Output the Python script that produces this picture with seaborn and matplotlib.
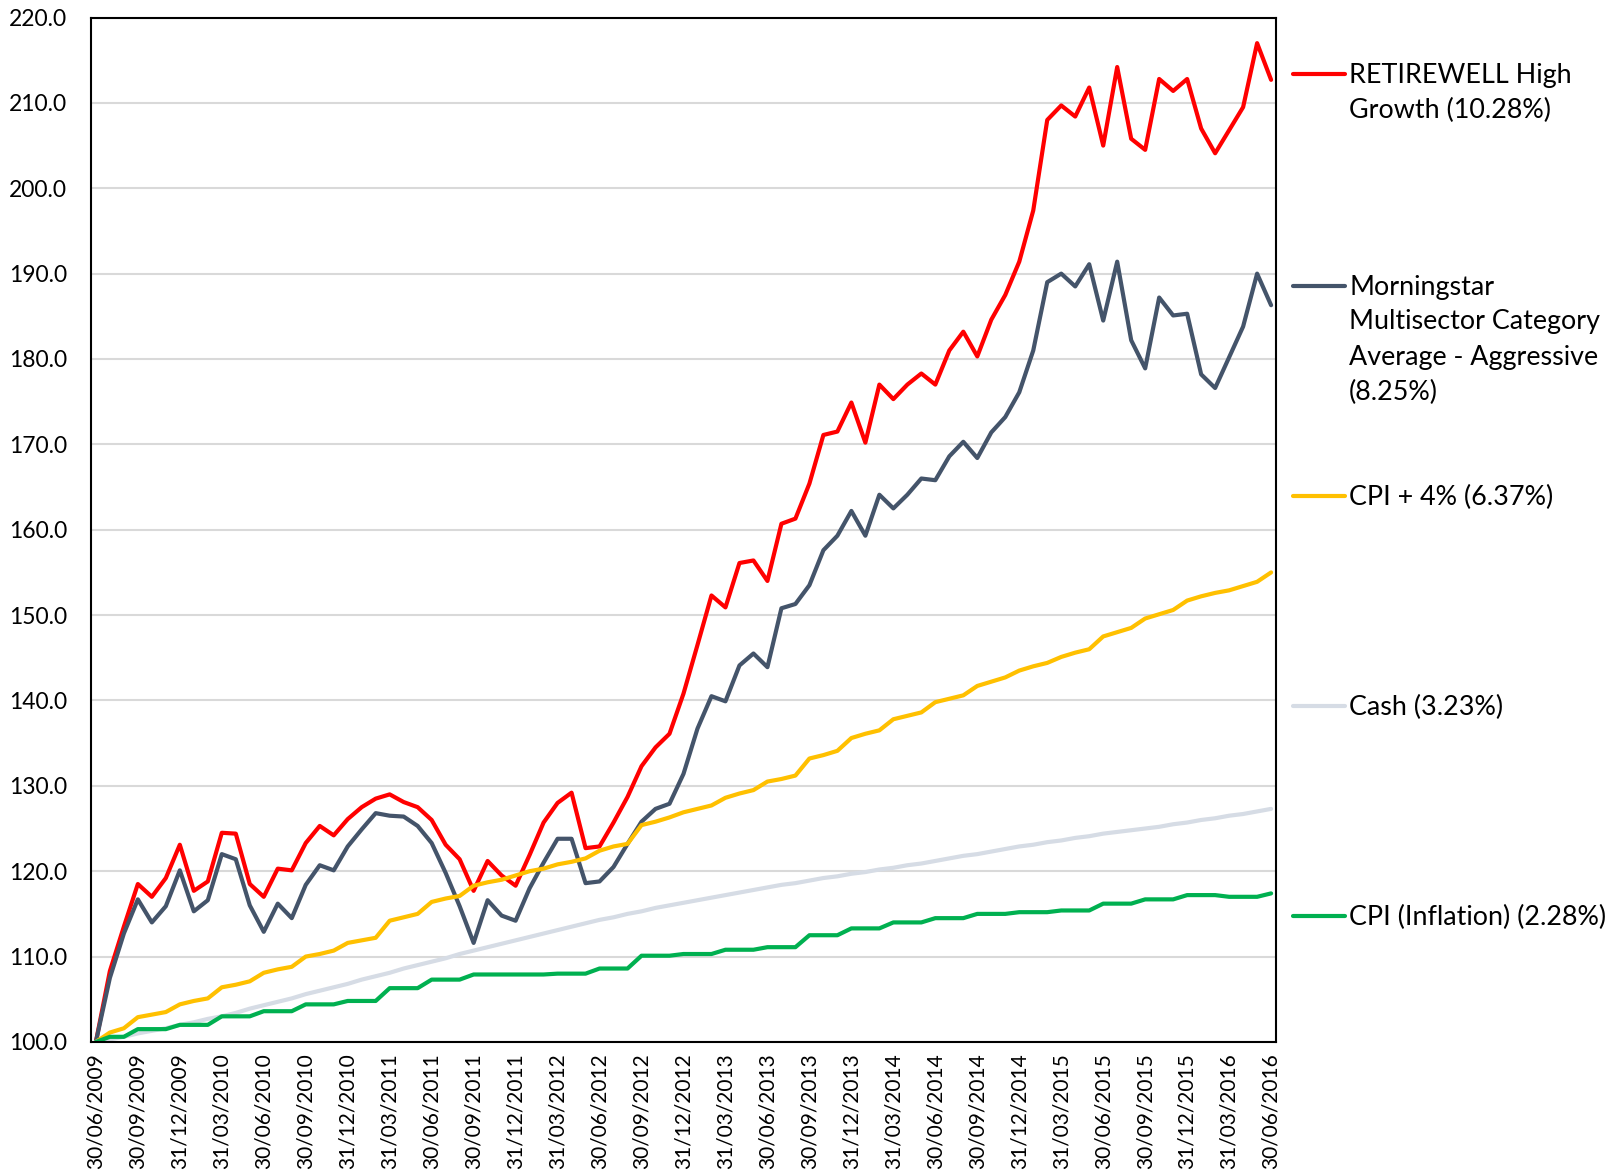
# -*- coding: utf-8 -*-
"""
Growth of 100 - RETIREWELL High Growth vs benchmarks, monthly 30/06/2009 - 30/06/2016.
"""

import pandas as pd
import matplotlib.pyplot as plt
import matplotlib.ticker as ticker
from matplotlib.lines import Line2D
import seaborn as sns

# 1. Data (month-end values)
dates = pd.date_range('2009-06-30', '2016-06-30', freq='ME')

retirewell = [100.0, 108.3, 113.5, 118.5, 117.0, 119.2, 123.1, 117.7, 118.8, 124.5,
              124.4, 118.5, 117.0, 120.3, 120.1, 123.3, 125.3, 124.2, 126.1, 127.5,
              128.5, 129.0, 128.1, 127.5, 126.0, 123.1, 121.4, 117.7, 121.2, 119.5,
              118.3, 121.9, 125.7, 128.0, 129.2, 122.7, 122.9, 125.7, 128.7, 132.3,
              134.5, 136.1, 140.8, 146.5, 152.3, 150.9, 156.1, 156.4, 154.0, 160.7,
              161.3, 165.4, 171.1, 171.5, 174.9, 170.2, 177.0, 175.3, 177.0, 178.3,
              177.0, 181.0, 183.2, 180.3, 184.6, 187.5, 191.4, 197.4, 208.0, 209.7,
              208.4, 211.8, 205.0, 214.2, 205.8, 204.5, 212.8, 211.4, 212.8, 207.0,
              204.1, 206.8, 209.5, 217.0, 212.7]

morningstar = [100.0, 107.5, 112.7, 116.7, 114.0, 115.9, 120.1, 115.3, 116.6, 122.0,
               121.4, 116.0, 112.9, 116.2, 114.5, 118.4, 120.7, 120.1, 122.9, 124.9,
               126.8, 126.5, 126.4, 125.3, 123.3, 119.8, 115.9, 111.6, 116.6, 114.8,
               114.2, 118.0, 121.0, 123.8, 123.8, 118.6, 118.8, 120.5, 123.2, 125.8,
               127.3, 127.9, 131.4, 136.7, 140.5, 139.9, 144.1, 145.5, 143.9, 150.8,
               151.3, 153.5, 157.6, 159.3, 162.2, 159.3, 164.1, 162.5, 164.1, 166.0,
               165.8, 168.6, 170.3, 168.4, 171.4, 173.2, 176.1, 181.0, 189.0, 190.0,
               188.5, 191.1, 184.5, 191.4, 182.2, 178.9, 187.2, 185.1, 185.3, 178.2,
               176.6, 180.2, 183.8, 190.0, 186.3]

cpi_plus4 = [100.0, 101.1, 101.6, 102.9, 103.2, 103.5, 104.4, 104.8, 105.1, 106.4,
             106.7, 107.1, 108.1, 108.5, 108.8, 110.0, 110.3, 110.7, 111.6, 111.9,
             112.2, 114.2, 114.6, 115.0, 116.4, 116.8, 117.1, 118.3, 118.7, 119.0,
             119.5, 120.0, 120.3, 120.8, 121.1, 121.5, 122.4, 122.9, 123.2, 125.4,
             125.8, 126.3, 126.9, 127.3, 127.7, 128.6, 129.1, 129.5, 130.5, 130.8,
             131.2, 133.2, 133.6, 134.1, 135.6, 136.1, 136.5, 137.8, 138.2, 138.6,
             139.8, 140.2, 140.6, 141.7, 142.2, 142.7, 143.5, 144.0, 144.4, 145.1,
             145.6, 146.0, 147.5, 148.0, 148.5, 149.6, 150.1, 150.6, 151.7, 152.2,
             152.6, 152.9, 153.4, 153.9, 155.0]

cash = [100.0, 100.3, 100.6, 101.0, 101.3, 101.6, 102.0, 102.3, 102.7, 103.0,
        103.4, 103.9, 104.3, 104.7, 105.1, 105.6, 106.0, 106.4, 106.8, 107.3,
        107.7, 108.1, 108.6, 109.0, 109.4, 109.8, 110.3, 110.7, 111.1, 111.5,
        111.9, 112.3, 112.7, 113.1, 113.5, 113.9, 114.3, 114.6, 115.0, 115.3,
        115.7, 116.0, 116.3, 116.6, 116.9, 117.2, 117.5, 117.8, 118.1, 118.4,
        118.6, 118.9, 119.2, 119.4, 119.7, 119.9, 120.2, 120.4, 120.7, 120.9,
        121.2, 121.5, 121.8, 122.0, 122.3, 122.6, 122.9, 123.1, 123.4, 123.6,
        123.9, 124.1, 124.4, 124.6, 124.8, 125.0, 125.2, 125.5, 125.7, 126.0,
        126.2, 126.5, 126.7, 127.0, 127.3]

cpi = [100.0, 100.6, 100.6, 101.5, 101.5, 101.5, 102.0, 102.0, 102.0, 103.0,
       103.0, 103.0, 103.6, 103.6, 103.6, 104.4, 104.4, 104.4, 104.8, 104.8,
       104.8, 106.3, 106.3, 106.3, 107.3, 107.3, 107.3, 107.9, 107.9, 107.9,
       107.9, 107.9, 107.9, 108.0, 108.0, 108.0, 108.6, 108.6, 108.6, 110.1,
       110.1, 110.1, 110.3, 110.3, 110.3, 110.8, 110.8, 110.8, 111.1, 111.1,
       111.1, 112.5, 112.5, 112.5, 113.3, 113.3, 113.3, 114.0, 114.0, 114.0,
       114.5, 114.5, 114.5, 115.0, 115.0, 115.0, 115.2, 115.2, 115.2, 115.4,
       115.4, 115.4, 116.2, 116.2, 116.2, 116.7, 116.7, 116.7, 117.2, 117.2,
       117.2, 117.0, 117.0, 117.0, 117.4]

series_names = ['RETIREWELL High\nGrowth (10.28%)',
                'Morningstar\nMultisector Category\nAverage - Aggressive\n(8.25%)',
                'CPI + 4% (6.37%)',
                'Cash (3.23%)',
                'CPI (Inflation) (2.28%)']
palette = ['#FF0000', '#44546A', '#FFC000', '#D6DCE5', '#00B050']

df = pd.DataFrame({'idx': range(len(dates)),
                   series_names[0]: retirewell,
                   series_names[1]: morningstar,
                   series_names[2]: cpi_plus4,
                   series_names[3]: cash,
                   series_names[4]: cpi})
df_long = df.melt(id_vars='idx', var_name='Series', value_name='value')

# 2. Plot
sns.set_theme(style='white')
plt.rcParams['font.family'] = ['Lato', 'DejaVu Sans']

fig = plt.figure(figsize=(16.16, 11.76), dpi=100)
ax = fig.add_axes([0.0563, 0.114, 0.7333, 0.8711])

sns.lineplot(data=df_long, x='idx', y='value', hue='Series', palette=palette,
             hue_order=series_names, linewidth=3.0, legend=False, sort=False, ax=ax)

ax.set_xlim(-0.35, len(dates) - 1 + 0.35)
ax.set_ylim(100, 220)
ax.set_yticks(range(100, 221, 10))
ax.yaxis.set_major_formatter(ticker.StrMethodFormatter('{x:.1f}'))
tick_pos = list(range(0, len(dates), 3))
ax.set_xticks(tick_pos)
ax.set_xticklabels([dates[i].strftime('%d/%m/%Y') for i in tick_pos], rotation=90)
ax.tick_params(axis='both', length=0, colors='black')
ax.tick_params(axis='y', pad=17, labelsize=16.5)
ax.tick_params(axis='x', pad=8, labelsize=15)
ax.set_xlabel('')
ax.set_ylabel('')
ax.grid(axis='y', color='#D9D9D9', linewidth=1.5)
ax.set_axisbelow(True)
for sp in ax.spines.values():
    sp.set_visible(True)
    sp.set_color('black')
    sp.set_linewidth(1.5)

# manual legend on the right, Excel style
handle_y = [74, 285.5, 496, 706, 916]
for name, col, hy in zip(series_names, palette, handle_y):
    yf = 1 - hy / 1176
    fig.add_artist(Line2D([1293 / 1616, 1345 / 1616], [yf, yf], color=col,
                          linewidth=3.0, transform=fig.transFigure))
    fig.text(1349 / 1616, 1 - (hy - 11) / 1176, name, fontsize=19.4, va='top',
             ha='left', linespacing=1.5, color='black')

plt.savefig('out.png', dpi=100)
